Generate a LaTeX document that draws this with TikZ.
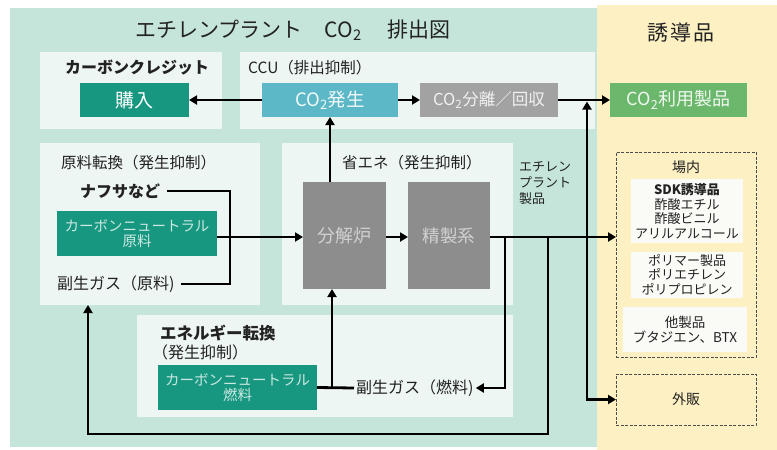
\documentclass[tikz,border=0pt]{standalone}
\usepackage{fontspec}
\setmainfont{Noto Sans CJK JP}
\usetikzlibrary{arrows.meta,calc}
\definecolor{pgreen}{HTML}{C6E5DA}
\definecolor{pyellow}{HTML}{FDF0C3}
\definecolor{pbox}{HTML}{EEF6F3}
\definecolor{pteal}{HTML}{17977F}
\definecolor{pcyan}{HTML}{5CB7C7}
\definecolor{pgray}{HTML}{A2A2A2}
\definecolor{pdgray}{HTML}{8D8D8D}
\definecolor{pgrn}{HTML}{6BB86C}
\definecolor{ptxt}{HTML}{222222}
\definecolor{pwhite}{HTML}{FAFAF7}
\newcommand{\fsz}[2]{\fontsize{#1}{#2}\selectfont}
\begin{document}
\begin{tikzpicture}[x=1pt,y=-1pt,
  area/.style={inner sep=0pt, outer sep=0pt, draw=none},
  panel/.style={area, fill=pbox},
  fbox/.style={area, align=center},
  dbox/.style={area, draw=black!70, dashed, dash pattern=on 3pt off 1.5pt, line width=0.8pt},
  wbox/.style={area, fill=pwhite, align=center, text=ptxt, font=\fsz{13}{14.5}},
  hdr/.style={anchor=west, inner sep=0pt, text=ptxt, font=\fsz{15.5}{16}},
  lbl/.style={inner ysep=4pt, inner xsep=0pt, text=ptxt, font=\fsz{16}{17}},
  ln/.style={line width=2.8pt, line join=miter},
  arr/.style={line width=2.8pt, line join=miter, -{Triangle[length=8pt,width=9pt]}}]
\useasboundingbox (0,0) rectangle (777,450);
\fill[white] (0,0) rectangle (777,450);
% backgrounds
\node[area, fill=pgreen, minimum width=587, minimum height=439] (green) at (303.5,227.5) {};
\node[area, fill=pyellow, minimum width=180, minimum height=445] (yellow) at (687,227.5) {};
\node[text=ptxt, font=\fsz{21}{23}, inner sep=0] (title) at (293,30) {エチレンプラント\hspace{22pt}CO\textsubscript{2}\hspace{26pt}排出図};
\node[text=ptxt, font=\fsz{21}{23}, inner sep=0] (yudo) at (681,33) {誘\hspace{2pt}導\hspace{2pt}品};
% light panels
\node[panel, minimum width=182, minimum height=77] (credit) at (131,90.5) {};
\node[panel, minimum width=355, minimum height=77] (ccu) at (417.5,90.5) {};
\node[panel, minimum width=220, minimum height=162] (genryo) at (150,224) {};
\node[panel, minimum width=231, minimum height=162] (shoene) at (397.5,224) {};
\node[panel, minimum width=376, minimum height=102] (energy) at (325,366) {};
% headers
\node[hdr, font=\fsz{16}{17}\bfseries] (hcredit) at (65,68) {カーボンクレジット};
\node[hdr] (hccu) at (248,68) {CCU（排出抑制）};
\node[hdr] (hgenryo) at (61,163) {原料転換（発生抑制）};
\node[hdr] (hshoene) at (342,163) {省エネ（発生抑制）};
\node[hdr, font=\fsz{16.5}{18}\bfseries] (henergy) at (160,333) {エネルギー転換};
\node[hdr, font=\fsz{16}{18}] (henergy2) at (152,352) {（発生抑制）};
% filled boxes
\node[fbox, fill=pteal, text=white, font=\fsz{19}{20}, minimum width=109, minimum height=34] (kounyu) at (134.5,100) {購入};
\node[fbox, fill=pcyan, text=white!92!pcyan, font=\fsz{18.5}{20}, minimum width=136, minimum height=34] (co2gen) at (330,100) {CO\textsubscript{2}発生};
\node[fbox, fill=pgray, text=white!85!pgray, font=\fsz{16.5}{18}, minimum width=138, minimum height=34] (co2sep) at (489,100) {CO\textsubscript{2}分離／回収};
\node[fbox, fill=pgrn, text=white!90!pgrn, font=\fsz{18}{19}, minimum width=137, minimum height=34] (co2use) at (678.5,100) {CO\textsubscript{2}利用製品};
\node[fbox, fill=pteal, text=white!78!pteal, font=\fsz{14.5}{15}, minimum width=160, minimum height=45] (cnraw) at (137,233.5) {カーボンニュートラル\\原料};
\node[fbox, fill=pdgray, text=white!60!pdgray, font=\fsz{18}{19}, minimum width=83, minimum height=107] (bunkai) at (344.5,235.5) {分解炉};
\node[fbox, fill=pdgray, text=white!60!pdgray, font=\fsz{17.5}{19}, minimum width=82, minimum height=107] (seisei) at (449,235.5) {精製系};
\node[fbox, fill=pteal, text=white!78!pteal, font=\fsz{14.5}{15}, minimum width=159, minimum height=45] (cnfuel) at (237.5,387.5) {カーボンニュートラル\\燃料};
% labels
\node[lbl, anchor=west, font=\fsz{16}{17}\bfseries] (naphtha) at (80,191) {ナフサなど};
\node[lbl, anchor=west] (fukugen) at (57,284) {副生ガス（原料)};
\node[lbl, anchor=west] (fukunen) at (356,388) {副生ガス（燃料)};
\node[anchor=north west, inner sep=0, align=left, text=ptxt, font=\fsz{13}{16}] (prod) at (519,161) {エチレン\\プラント\\製品};
% derived products
\node[dbox, minimum width=140, minimum height=205] (jonai) at (686,254.5) {};
\node[text=ptxt, font=\fsz{14}{15}, inner sep=0] (hjonai) at (686,167) {場内};
\node[wbox, minimum width=112, minimum height=64] (sdk) at (687,211) {{\bfseries SDK誘導品}\\酢酸エチル\\酢酸ビニル\\アリルアルコール};
\node[wbox, minimum width=112, minimum height=46] (poly) at (687,274.5) {ポリマー製品\\ポリエチレン\\ポリプロピレン};
\node[wbox, minimum width=124, minimum height=45, font=\fsz{13.5}{15}] (other) at (685,329.5) {他製品\\ブタジエン、BTX};
\node[dbox, minimum width=140, minimum height=51, text=ptxt, font=\fsz{14}{15}] (gaihan) at (686,399.5) {外販};
% junction coordinates
\coordinate (vx) at (330,0);
\coordinate (mx) at (230,237);
\coordinate (py) at (0,237);
\coordinate (j1) at (505,237);
\coordinate (j2) at (548,237);
\coordinate (j3) at (587,237);
\coordinate (j4) at (332,388);
\coordinate (lb) at (88,434);
% connectors
\draw[arr] (co2gen.west) -- (kounyu.east);
\draw[arr] (co2gen.east) -- (co2sep.west);
\draw[arr] (co2sep.east) -- (co2use.west);
\draw[arr] (bunkai.north -| vx) -- (co2gen.south -| vx);
\draw[ln] ([xshift=7pt]naphtha.east) -| (mx) |- ([xshift=6pt]fukugen.east);
\draw[arr] (cnraw.east |- py) -- (bunkai.west |- py);
\draw[arr] (bunkai.east |- py) -- (seisei.west |- py);
\draw[arr] (seisei.east |- py) -- (jonai.west |- py);
\draw[arr] (j1) |- ([xshift=2pt]fukunen.east);
\draw[arr] (j2) |- (lb) -- (lb |- genryo.south);
\draw[arr] (j3) |- (gaihan.west);
\draw[arr] (j3) -- ($(co2sep.east -| j3)+(0,1.5)$);
\draw[ln] (cnfuel.east) -- ([xshift=-2pt]fukunen.west);
\draw[arr] (j4) -- (j4 |- bunkai.south);
\end{tikzpicture}
\end{document}
